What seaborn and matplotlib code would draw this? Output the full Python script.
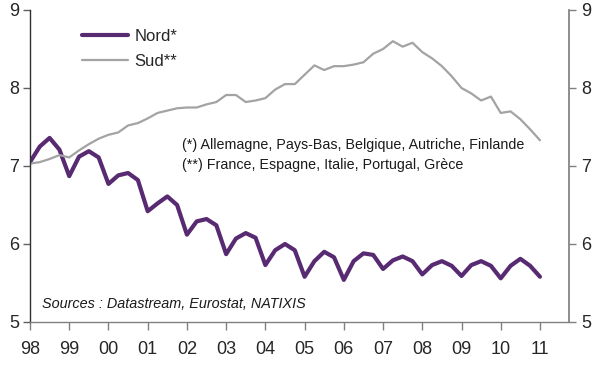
import matplotlib
matplotlib.use("Agg")
import matplotlib.pyplot as plt
import seaborn as sns
import numpy as np
import pandas as pd

years = list(range(1998, 2012))
year_labels = ['98', '99', '00', '01', '02', '03', '04', '05', '06', '07', '08', '09', '10', '11']
quarters = [f"{y}Q{q}" for y in range(1998, 2011) for q in range(1, 5)] + ["2011Q1"]

nord = [7.05, 7.25, 7.36, 7.21,
        6.87, 7.12, 7.19, 7.11,
        6.77, 6.88, 6.91, 6.82,
        6.42, 6.52, 6.61, 6.50,
        6.12, 6.29, 6.32, 6.24,
        5.87, 6.07, 6.14, 6.08,
        5.73, 5.92, 6.00, 5.92,
        5.58, 5.78, 5.90, 5.83,
        5.54, 5.78, 5.88, 5.86,
        5.68, 5.79, 5.84, 5.78,
        5.61, 5.73, 5.78, 5.72,
        5.59, 5.73, 5.78, 5.72,
        5.56, 5.72, 5.81, 5.72,
        5.58]

sud = [7.03, 7.05, 7.09, 7.14,
       7.11, 7.20, 7.28, 7.35,
       7.40, 7.43, 7.52, 7.55,
       7.61, 7.68, 7.71, 7.74,
       7.75, 7.75, 7.79, 7.82,
       7.91, 7.91, 7.82, 7.84,
       7.87, 7.98, 8.05, 8.05,
       8.17, 8.29, 8.23, 8.28,
       8.28, 8.30, 8.33, 8.44,
       8.50, 8.60, 8.53, 8.58,
       8.46, 8.38, 8.28, 8.15,
       8.00, 7.93, 7.84, 7.89,
       7.68, 7.70, 7.60, 7.47,
       7.33]

t = [int(q[:4]) + (int(q[-1]) - 1) / 4 for q in quarters]
df = pd.DataFrame({"t": t, "Nord*": nord, "Sud**": sud})

sns.set_theme(style="white")
plt.rcParams['font.family'] = ['Liberation Sans', 'DejaVu Sans']

fig = plt.figure(figsize=(6.04, 3.71), dpi=100)
ax = fig.add_axes([30/604, 1-322/371, (569-30)/604, (322-10)/371])

purple = '#582a72'
grey = '#a3a3a3'
sns.lineplot(data=df, x="t", y="Nord*", ax=ax, color=purple, lw=3.0, label="Nord*")
sns.lineplot(data=df, x="t", y="Sud**", ax=ax, color=grey, lw=1.6, label="Sud**")

ax.set_xlim(1998, 2011.74)
ax.set_ylim(5, 9)
ax.set_xticks(years)
ax.set_xticklabels(year_labels)
ax.set_yticks([5, 6, 7, 8, 9])
ax.set_yticklabels(['5', '6', '7', '8', '9'])
ax.set_xlabel('')
ax.set_ylabel('')

for s in ['top', 'right']:
    ax.spines[s].set_visible(False)
ax.spines['left'].set_color('#303030')
ax.spines['bottom'].set_color('#808080')
ax.spines['left'].set_linewidth(1.0)
ax.spines['bottom'].set_linewidth(1.0)
ax.tick_params(axis='x', direction='out', length=6, width=1, color='#808080',
               labelsize=13, pad=8, bottom=True)
ax.tick_params(axis='y', direction='out', length=5, width=1, color='#606060',
               labelsize=13, pad=3, left=True)

ax2 = ax.twinx()
ax2.set_ylim(5, 9)
ax2.set_yticks([5, 6, 7, 8, 9])
ax2.set_yticklabels(['5', '6', '7', '8', '9'])
for s in ['top', 'left', 'bottom']:
    ax2.spines[s].set_visible(False)
ax2.spines['right'].set_color('#808080')
ax2.tick_params(axis='y', direction='out', length=5, width=1, color='#808080',
                labelsize=13, pad=4, right=True)

leg = ax.legend(loc='upper left', bbox_to_anchor=(45/539, 1-12/312), frameon=False,
                fontsize=12, handlelength=2.75, handletextpad=0.4, labelspacing=0.6,
                borderaxespad=0)

ax.text(182/604, 1-145/371, "(*) Allemagne, Pays-Bas, Belgique, Autriche, Finlande",
        transform=fig.transFigure, fontsize=10.3, va='center', ha='left', color='#1a1a1a')
ax.text(182/604, 1-165/371, "(**) France, Espagne, Italie, Portugal, Grèce",
        transform=fig.transFigure, fontsize=10.3, va='center', ha='left', color='#1a1a1a')
ax.text(42/604, 1-304/371, "Sources : Datastream, Eurostat, NATIXIS",
        transform=fig.transFigure, fontsize=10.4, style='italic', va='center', ha='left',
        color='#1a1a1a')

fig.savefig("out.png", dpi=100)
